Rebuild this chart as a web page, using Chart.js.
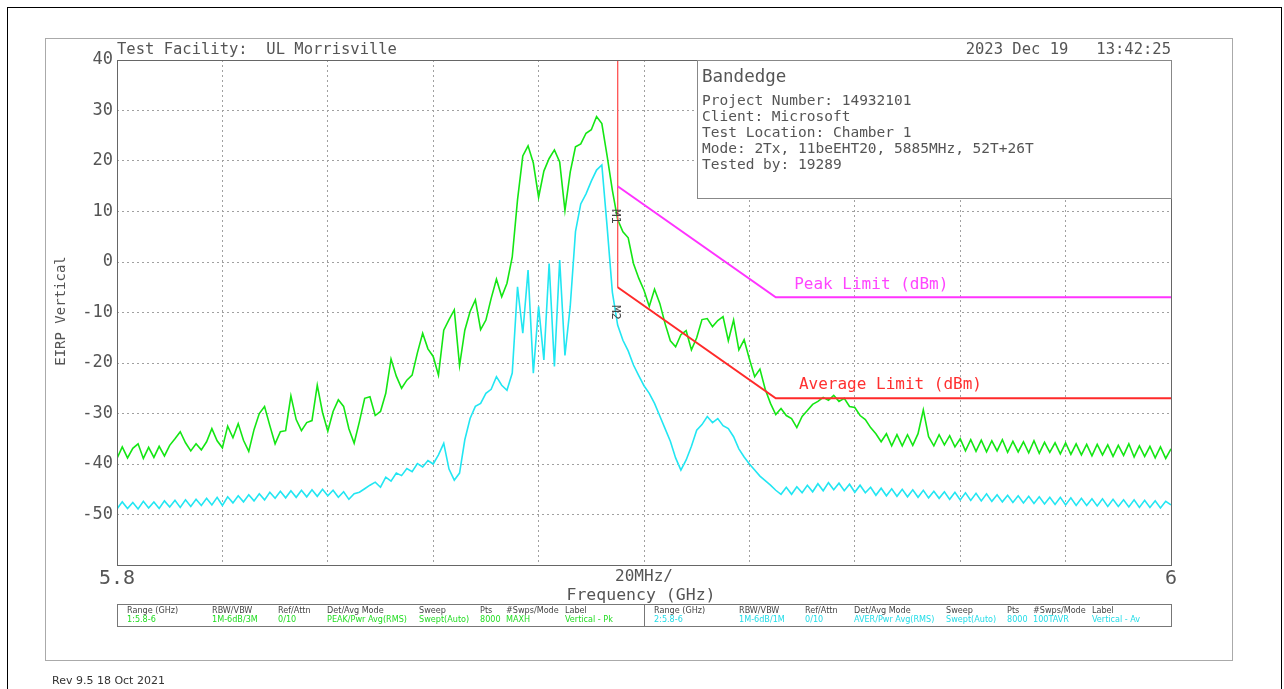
<!DOCTYPE html>
<html>
<head>
<meta charset="utf-8">
<script src="https://cdn.jsdelivr.net/npm/chart.js@4.4.0/dist/chart.umd.min.js"></script>
<style>
  body { margin: 0; background: #fff; }
</style>
</head>
<body>
<canvas id="myChart" width="1284" height="689"></canvas>
<script>
// sweep: 5.8 - 6 GHz, one reading per MHz
let freqStart = 5.8;
let freqStep = 0.001;

// trace 1, peak (max hold), dBm
let peakTrace = [
  -38.9, -36.6, -38.8, -36.9, -36.0, -38.9, -36.7, -38.7, -36.5, -38.4,
  -36.3, -35.0, -33.6, -35.8, -37.4, -36.0, -37.2, -35.6, -33.0, -35.4,
  -36.8, -32.5, -34.8, -32.0, -35.3, -37.5, -33.2, -30.0, -28.6, -32.4,
  -36.0, -33.6, -33.4, -26.5, -31.2, -33.4, -31.8, -31.4, -24.4, -29.8,
  -33.5, -29.6, -27.3, -28.6, -33.0, -35.9, -31.6, -27.0, -26.7, -30.4,
  -29.6, -26.0, -19.2, -22.6, -25.0, -23.4, -22.4, -18.0, -14.1, -17.2,
  -18.7, -22.4, -13.5, -11.4, -9.5, -20.5, -13.5, -9.8, -7.5, -13.4,
  -11.5, -7.2, -3.4, -6.9, -4.2, 1.0, 12.3, 21.0, 23.0, 19.6,
  12.8, 18.0, 20.5, 22.2, 19.8, 10.2, 17.8, 22.8, 23.4, 25.5,
  26.2, 28.8, 27.4, 21.0, 14.2, 8.4, 6.0, 4.8, -0.3, -3.2,
  -5.6, -8.8, -5.4, -8.2, -12.2, -15.6, -16.8, -14.4, -13.6, -17.4,
  -15.0, -11.4, -11.2, -12.8, -11.6, -10.8, -15.6, -11.5, -17.4, -15.4,
  -19.2, -22.7, -21.2, -25.2, -28.0, -30.2, -29.0, -30.4, -31.0, -32.8,
  -30.6, -29.4, -28.2, -27.6, -26.8, -27.4, -26.4, -27.6, -27.0, -28.6,
  -28.8, -30.4, -31.2, -32.8, -34.0, -35.6, -34.0, -36.4, -34.2, -36.4,
  -34.2, -36.3, -34.0, -29.3, -34.6, -36.4, -34.2, -36.2, -34.4, -36.6,
  -35.0, -37.4, -35.2, -37.5, -35.3, -37.6, -35.4, -37.4, -35.2, -37.7,
  -35.5, -37.6, -35.6, -37.8, -35.4, -37.9, -35.7, -37.7, -35.8, -38.0,
  -35.8, -38.1, -36.0, -38.2, -36.1, -38.4, -36.1, -38.2, -36.2, -38.5,
  -36.3, -38.3, -36.0, -38.6, -36.4, -38.5, -36.5, -38.8, -36.6, -38.9,
  -37.0
];

// trace 2, average, dBm
let avgTrace = [
  -48.9, -47.5, -48.8, -47.6, -48.9, -47.4, -48.7, -47.5, -48.8, -47.3,
  -48.5, -47.2, -48.6, -47.1, -48.4, -47.0, -48.2, -46.8, -48.1, -46.6,
  -48.2, -46.5, -47.7, -46.3, -47.5, -46.1, -47.3, -45.9, -47.1, -45.6,
  -46.8, -45.4, -46.7, -45.3, -46.6, -45.2, -46.5, -45.1, -46.4, -45.0,
  -46.3, -45.2, -46.6, -45.5, -47.0, -45.9, -45.6, -44.9, -44.2, -43.6,
  -44.6, -42.6, -43.4, -41.8, -42.3, -40.9, -41.5, -39.9, -40.6, -39.3,
  -40.0, -38.2, -35.9, -41.0, -43.2, -41.8, -35.2, -31.0, -28.6, -28.0,
  -26.0, -25.2, -22.7, -24.4, -25.4, -22.0, -4.9, -14.1, -1.6, -22.0,
  -8.8, -19.4, -0.3, -20.7, 0.4, -18.5, -8.8, 6.0, 11.5, 13.5,
  16.0, 18.2, 19.2, 7.0, -6.0, -12.5, -15.5, -17.6, -20.4, -22.5,
  -24.5, -26.0, -28.0, -30.5, -33.0, -35.5, -38.8, -41.2, -39.2, -36.5,
  -33.3, -32.2, -30.6, -31.8, -31.0, -32.4, -33.0, -34.6, -37.0, -38.6,
  -40.0, -41.2, -42.4, -43.3, -44.2, -45.2, -46.0, -44.6, -46.0, -44.5,
  -45.7, -44.2, -45.5, -43.9, -45.3, -43.7, -45.1, -43.8, -45.3, -44.0,
  -45.6, -44.2, -45.7, -44.6, -46.2, -44.8, -46.3, -44.9, -46.4, -45.0,
  -46.5, -45.1, -46.6, -45.2, -46.7, -45.4, -46.8, -45.5, -47.0, -45.6,
  -47.1, -45.7, -47.2, -45.8, -47.3, -45.9, -47.4, -46.1, -47.5, -46.2,
  -47.6, -46.3, -47.7, -46.4, -47.8, -46.5, -47.9, -46.6, -48.0, -46.6,
  -48.1, -46.7, -48.2, -46.8, -48.2, -46.9, -48.3, -46.9, -48.4, -47.0,
  -48.4, -47.1, -48.5, -47.1, -48.6, -47.2, -48.6, -47.3, -48.7, -47.4,
  -48.1
];

// limit lines (GHz, dBm)
let bandEdgeFreq = [5.895, 5.895];
let bandEdgeLevel = [40, -5];
let peakLimitFreq = [5.895, 5.925, 6.0];
let peakLimitLevel = [15, -7, -7];
let avgLimitFreq = [5.895, 5.925, 6.0];
let avgLimitLevel = [-5, -27, -27];

// markers
let markerNames = ['M1', 'M2'];
let markerFreq = [5.895, 5.895];
let markerLevel = [9, -10];

// axis ticks
let yTicks = [40, 30, 20, 10, 0, -10, -20, -30, -40, -50];

// text
let infoLines = [
  'Project Number: 14932101',
  'Client: Microsoft',
  'Test Location: Chamber 1',
  'Mode: 2Tx, 11beEHT20, 5885MHz, 52T+26T',
  'Tested by: 19289'
];
let tableHeads = ['Range (GHz)', 'RBW/VBW', 'Ref/Attn', 'Det/Avg Mode', 'Sweep', 'Pts', '#Swps/Mode', 'Label'];
let tableRow1 = ['1:5.8-6', '1M-6dB/3M', '0/10', 'PEAK/Pwr Avg(RMS)', 'Swept(Auto)', '8000', 'MAXH', 'Vertical - Pk'];
let tableRow2 = ['2:5.8-6', '1M-6dB/1M', '0/10', 'AVER/Pwr Avg(RMS)', 'Swept(Auto)', '8000', '100TAVR', 'Vertical - Av'];

function toPoints(xs, ys) {
  let pts = [];
  for (let i = 0; i < ys.length; i++) {
    pts.push({ x: xs[i], y: ys[i] });
  }
  return pts;
}

let sweepFreq = [];
for (let i = 0; i < peakTrace.length; i++) {
  sweepFreq.push(+(freqStart + i * freqStep).toFixed(3));
}

const MONO = "'DejaVu Sans Mono', monospace";
const NARROW = "'Liberation Sans Narrow', 'DejaVu Sans Condensed', sans-serif";

let decor = {
  id: 'decor',
  beforeDraw(chart) {
    let c = chart.ctx;
    c.save();
    c.fillStyle = '#fff';
    c.fillRect(0, 0, chart.width, chart.height);
    c.restore();
  },
  afterDraw(chart) {
    let c = chart.ctx;
    let a = chart.chartArea;
    let xs = chart.scales.x;
    let ys = chart.scales.y;
    c.save();

    // outer page border + grey frame
    c.strokeStyle = '#000';
    c.lineWidth = 1;
    c.strokeRect(7.5, 7.5, 1274, 700);
    c.strokeStyle = '#aaa';
    c.strokeRect(45.5, 38.5, 1187, 622);

    // plot frame
    c.strokeStyle = '#666';
    c.strokeRect(a.left + 0.5, a.top + 0.5, a.right - a.left, a.bottom - a.top);

    // header texts
    c.fillStyle = '#555';
    c.textBaseline = 'middle';
    c.font = '15.5px ' + MONO;
    c.textAlign = 'left';
    c.fillText('Test Facility:  UL Morrisville', 117, 50);
    c.textAlign = 'right';
    c.fillText('2023 Dec 19   13:42:25', 1171, 50);

    // axis titles
    c.textAlign = 'center';
    c.font = '16.5px ' + MONO;
    c.fillText('Frequency (GHz)', 641, 596);
    c.save();
    c.translate(61, 311);
    c.rotate(-Math.PI / 2);
    c.font = '14px ' + MONO;
    c.fillText('EIRP Vertical', 0, 0);
    c.restore();

    // info box
    c.fillStyle = '#fff';
    c.fillRect(697, 60, 474, 138);
    c.strokeStyle = '#888';
    c.strokeRect(697.5, 60.5, 474, 138);
    c.fillStyle = '#555';
    c.textAlign = 'left';
    c.font = '17.5px ' + MONO;
    c.fillText('Bandedge', 702, 77);
    c.font = '14.5px ' + MONO;
    for (let i = 0; i < infoLines.length; i++) {
      c.fillText(infoLines[i], 702, 101 + i * 16);
    }

    // limit labels
    c.font = '16px ' + MONO;
    c.fillStyle = '#ff44ff';
    c.fillText('Peak Limit (dBm)', xs.getPixelForValue(5.9285), ys.getPixelForValue(-4.5));
    c.fillStyle = '#ff3030';
    c.fillText('Average Limit (dBm)', xs.getPixelForValue(5.9294), ys.getPixelForValue(-24.3));

    // marker tags
    c.fillStyle = '#444';
    c.font = '12px ' + MONO;
    for (let i = 0; i < markerNames.length; i++) {
      c.save();
      c.translate(xs.getPixelForValue(markerFreq[i]) - 3, ys.getPixelForValue(markerLevel[i]));
      c.rotate(Math.PI / 2);
      c.textAlign = 'center';
      c.fillText(markerNames[i], 0, 0);
      c.restore();
    }

    // settings table
    let cols = [0, 85, 151, 200, 292, 353, 379, 438];
    let boxes = [[117, tableRow1, '#22dd22'], [644, tableRow2, '#22dde8']];
    c.font = '9px ' + NARROW;
    for (let b = 0; b < boxes.length; b++) {
      let x0 = boxes[b][0];
      c.strokeStyle = '#777';
      c.strokeRect(x0 + 0.5, 604.5, 527, 22);
      for (let k = 0; k < cols.length; k++) {
        c.fillStyle = '#444';
        c.fillText(tableHeads[k], x0 + 10 + cols[k], 611);
        c.fillStyle = boxes[b][2];
        c.fillText(boxes[b][1][k], x0 + 10 + cols[k], 620);
      }
    }

    // revision
    c.fillStyle = '#333';
    c.font = '11px ' + "'DejaVu Sans', sans-serif";
    c.fillText('Rev 9.5 18 Oct 2021', 52, 681);
    c.restore();
  }
};

let chart = new Chart(document.getElementById('myChart'), {
  type: 'line',
  data: {
    datasets: [
      { data: toPoints(avgLimitFreq, avgLimitLevel), borderColor: '#ff2a2a', borderWidth: 2, order: 0 },
      { data: toPoints(peakLimitFreq, peakLimitLevel), borderColor: '#ff33ff', borderWidth: 2, order: 0 },
      { data: toPoints(bandEdgeFreq, bandEdgeLevel), borderColor: '#ff5a5a', borderWidth: 1, order: 0 },
      { data: toPoints(sweepFreq, avgTrace), borderColor: '#22e6f2', borderWidth: 1.6, order: 1 },
      { data: toPoints(sweepFreq, peakTrace), borderColor: '#14e614', borderWidth: 1.6, order: 2 }
    ]
  },
  options: {
    responsive: false,
    animation: false,
    events: [],
    elements: { point: { radius: 0 }, line: { tension: 0 } },
    layout: { padding: { top: 60, right: 113, left: 0, bottom: 0 } },
    plugins: { legend: { display: false }, tooltip: { enabled: false } },
    scales: {
      x: {
        type: 'linear',
        min: 5.8,
        max: 6.0,
        afterFit(scale) { scale.height = 124; },
        grid: { color: '#a0a0a0', drawTicks: false, lineWidth: 1 },
        border: { display: false, dash: [2, 3] },
        ticks: {
          stepSize: 0.02,
          autoSkip: false,
          maxRotation: 0,
          padding: 2,
          color: '#555',
          font: (ctx) => ({ family: MONO, size: ctx.tick && Math.abs(ctx.tick.value - 5.9) < 0.001 ? 16 : 20 }),
          callback: (v) => {
            if (Math.abs(v - 5.8) < 0.001) return '5.8';
            if (Math.abs(v - 5.9) < 0.001) return '20MHz/';
            if (Math.abs(v - 6.0) < 0.001) return '6';
            return '';
          }
        }
      },
      y: {
        min: -60,
        max: 40,
        afterFit(scale) { scale.width = 117; },
        grid: { color: '#a0a0a0', drawTicks: false, lineWidth: 1 },
        border: { display: false, dash: [2, 3] },
        ticks: {
          stepSize: 10,
          padding: 4,
          color: '#555',
          font: { family: MONO, size: 17 },
          callback: (v) => yTicks.includes(v) ? v : ''
        }
      }
    }
  },
  plugins: [decor]
});
</script>
</body>
</html>
